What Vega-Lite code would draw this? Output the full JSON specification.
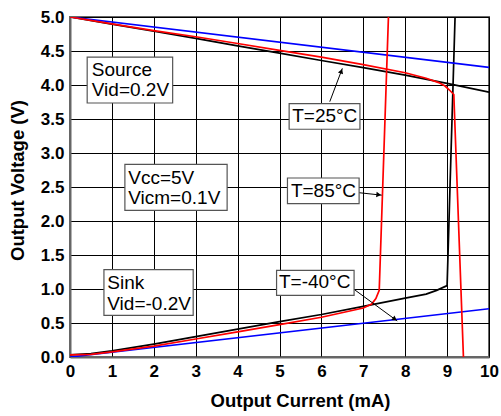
{
  "$schema": "https://vega.github.io/schema/vega-lite/v6.json",
  "width": 419,
  "height": 340,
  "autosize": {"type": "none"},
  "padding": {"left": 70, "top": 17, "right": 12, "bottom": 59},
  "background": "white",
  "config": {
    "view": {"stroke": "#666666", "strokeWidth": 2},
    "font": "Liberation Sans"
  },
  "datasets": {
    "curves": [
      {"T": "25", "seg": "k-src", "i": 0, "x": 0, "y": 5.0},
      {"T": "25", "seg": "k-src", "i": 1, "x": 1, "y": 4.895},
      {"T": "25", "seg": "k-src", "i": 2, "x": 2, "y": 4.79},
      {"T": "25", "seg": "k-src", "i": 3, "x": 3, "y": 4.685},
      {"T": "25", "seg": "k-src", "i": 4, "x": 4, "y": 4.575},
      {"T": "25", "seg": "k-src", "i": 5, "x": 5, "y": 4.47},
      {"T": "25", "seg": "k-src", "i": 6, "x": 6, "y": 4.36},
      {"T": "25", "seg": "k-src", "i": 7, "x": 7, "y": 4.255},
      {"T": "25", "seg": "k-src", "i": 8, "x": 8, "y": 4.145},
      {"T": "25", "seg": "k-src", "i": 9, "x": 9, "y": 4.025},
      {"T": "25", "seg": "k-src", "i": 10, "x": 10, "y": 3.895},
      {"T": "25", "seg": "k-snk", "i": 0, "x": 0, "y": 0.03},
      {"T": "25", "seg": "k-snk", "i": 1, "x": 0.5, "y": 0.05},
      {"T": "25", "seg": "k-snk", "i": 2, "x": 1, "y": 0.09},
      {"T": "25", "seg": "k-snk", "i": 3, "x": 2, "y": 0.19},
      {"T": "25", "seg": "k-snk", "i": 4, "x": 3, "y": 0.3},
      {"T": "25", "seg": "k-snk", "i": 5, "x": 4, "y": 0.41},
      {"T": "25", "seg": "k-snk", "i": 6, "x": 5, "y": 0.52},
      {"T": "25", "seg": "k-snk", "i": 7, "x": 6, "y": 0.625},
      {"T": "25", "seg": "k-snk", "i": 8, "x": 7, "y": 0.745},
      {"T": "25", "seg": "k-snk", "i": 9, "x": 8, "y": 0.865},
      {"T": "25", "seg": "k-snk", "i": 10, "x": 8.5, "y": 0.925},
      {"T": "25", "seg": "k-snk", "i": 11, "x": 8.75, "y": 0.98},
      {"T": "25", "seg": "k-snk", "i": 12, "x": 9.0, "y": 1.05},
      {"T": "25", "seg": "k-snk", "i": 13, "x": 9.06, "y": 2.31},
      {"T": "25", "seg": "k-snk", "i": 14, "x": 9.19, "y": 5.0},
      {"T": "-40", "seg": "b-src", "i": 0, "x": 0, "y": 5.0},
      {"T": "-40", "seg": "b-src", "i": 1, "x": 10, "y": 4.26},
      {"T": "-40", "seg": "b-snk", "i": 0, "x": 0, "y": 0.0},
      {"T": "-40", "seg": "b-snk", "i": 1, "x": 10, "y": 0.71},
      {"T": "85", "seg": "r-src", "i": 0, "x": 0, "y": 5.0},
      {"T": "85", "seg": "r-src", "i": 1, "x": 1, "y": 4.9},
      {"T": "85", "seg": "r-src", "i": 2, "x": 2, "y": 4.8},
      {"T": "85", "seg": "r-src", "i": 3, "x": 3, "y": 4.71},
      {"T": "85", "seg": "r-src", "i": 4, "x": 4, "y": 4.61},
      {"T": "85", "seg": "r-src", "i": 5, "x": 5, "y": 4.51},
      {"T": "85", "seg": "r-src", "i": 6, "x": 6, "y": 4.41},
      {"T": "85", "seg": "r-src", "i": 7, "x": 7, "y": 4.3},
      {"T": "85", "seg": "r-src", "i": 8, "x": 8, "y": 4.18},
      {"T": "85", "seg": "r-src", "i": 9, "x": 8.5, "y": 4.1},
      {"T": "85", "seg": "r-src", "i": 10, "x": 8.8, "y": 4.035},
      {"T": "85", "seg": "r-src", "i": 11, "x": 8.95, "y": 3.985},
      {"T": "85", "seg": "r-src", "i": 12, "x": 9.05, "y": 3.93},
      {"T": "85", "seg": "r-src", "i": 13, "x": 9.16, "y": 3.86},
      {"T": "85", "seg": "r-src", "i": 14, "x": 9.39, "y": 0.0},
      {"T": "85", "seg": "r-snk", "i": 0, "x": 0, "y": 0.03},
      {"T": "85", "seg": "r-snk", "i": 1, "x": 0.5, "y": 0.04},
      {"T": "85", "seg": "r-snk", "i": 2, "x": 1, "y": 0.075},
      {"T": "85", "seg": "r-snk", "i": 3, "x": 2, "y": 0.16},
      {"T": "85", "seg": "r-snk", "i": 4, "x": 3, "y": 0.265},
      {"T": "85", "seg": "r-snk", "i": 5, "x": 4, "y": 0.37},
      {"T": "85", "seg": "r-snk", "i": 6, "x": 5, "y": 0.475},
      {"T": "85", "seg": "r-snk", "i": 7, "x": 6, "y": 0.585},
      {"T": "85", "seg": "r-snk", "i": 8, "x": 7, "y": 0.72},
      {"T": "85", "seg": "r-snk", "i": 9, "x": 7.2, "y": 0.78},
      {"T": "85", "seg": "r-snk", "i": 10, "x": 7.3, "y": 0.86},
      {"T": "85", "seg": "r-snk", "i": 11, "x": 7.38, "y": 0.98},
      {"T": "85", "seg": "r-snk", "i": 12, "x": 7.6, "y": 5.0}
    ],
    "boxes": [
      {"x": 0.41, "x2": 2.45, "y": 4.41, "y2": 3.735},
      {"x": 1.31, "x2": 3.75, "y": 2.834, "y2": 2.157},
      {"x": 0.81, "x2": 2.94, "y": 1.285, "y2": 0.613},
      {"x": 5.23, "x2": 6.92, "y": 3.726, "y2": 3.349},
      {"x": 5.19, "x2": 6.9, "y": 2.632, "y2": 2.256},
      {"x": 4.93, "x2": 6.78, "y": 1.275, "y2": 0.907}
    ],
    "notes": [
      {"t": "Source", "x": 0.52, "y": 4.22},
      {"t": "Vid=0.2V", "x": 0.52, "y": 3.93},
      {"t": "Vcc=5V", "x": 1.39, "y": 2.637},
      {"t": "Vicm=0.1V", "x": 1.39, "y": 2.334},
      {"t": "Sink", "x": 0.89, "y": 1.093},
      {"t": "Vid=-0.2V", "x": 0.89, "y": 0.784}
    ],
    "tlabels": [
      {"t": "T=25°C", "x": 6.08, "y": 3.54},
      {"t": "T=85°C", "x": 6.05, "y": 2.435},
      {"t": "T=-40°C", "x": 5.84, "y": 1.11}
    ],
    "arrows": [
      {"a": "25", "x": 6.2, "y": 3.755, "x2": 6.5, "y2": 4.245},
      {"a": "85", "x": 6.9, "y": 2.416, "x2": 7.44, "y2": 2.38},
      {"a": "-40", "x": 6.79, "y": 0.99, "x2": 7.81, "y2": 0.53}
    ],
    "heads": [
      {"a": "25", "x": 6.475, "y": 4.204},
      {"a": "85", "x": 7.368, "y": 2.385},
      {"a": "-40", "x": 7.752, "y": 0.556}
    ]
  },
  "encoding": {
    "x": {
      "field": "x",
      "type": "quantitative",
      "scale": {"domain": [0, 10], "nice": false, "zero": false},
      "axis": {
        "values": [0, 1, 2, 3, 4, 5, 6, 7, 8, 9, 10],
        "grid": true,
        "gridColor": "#000000",
        "gridWidth": 1,
        "gridOpacity": 1,
        "ticks": false,
        "domainColor": "#666666",
        "domainWidth": 2,
        "labelFont": "Liberation Sans",
        "labelFontSize": 17,
        "labelFontWeight": "bold",
        "labelColor": "#000000",
        "labelPadding": 6,
        "labelFlush": false,
        "labelOverlap": false,
        "title": "Output Current (mA)",
        "titleFont": "Liberation Sans",
        "titleFontSize": 18.5,
        "titleFontWeight": "bold",
        "titleColor": "#000000",
        "titleX": 230,
        "titleY": 43,
        "titleAlign": "center",
        "titleBaseline": "middle"
      }
    },
    "y": {
      "field": "y",
      "type": "quantitative",
      "scale": {"domain": [0, 5], "nice": false, "zero": false},
      "axis": {
        "values": [0, 0.5, 1, 1.5, 2, 2.5, 3, 3.5, 4, 4.5, 5],
        "format": ".1f",
        "grid": true,
        "gridColor": "#000000",
        "gridWidth": 1,
        "gridOpacity": 1,
        "ticks": false,
        "domainColor": "#666666",
        "domainWidth": 2,
        "labelFont": "Liberation Sans",
        "labelFontSize": 17,
        "labelFontWeight": "bold",
        "labelColor": "#000000",
        "labelPadding": 6,
        "labelFlush": false,
        "labelOverlap": false,
        "title": "Output Voltage (V)",
        "titleFont": "Liberation Sans",
        "titleFontSize": 18.5,
        "titleFontWeight": "bold",
        "titleColor": "#000000",
        "titleAngle": -90,
        "titleX": -52.5,
        "titleY": 163,
        "titleAlign": "center",
        "titleBaseline": "middle"
      }
    }
  },
  "layer": [
    {
      "data": {"name": "curves"},
      "mark": {"type": "line", "strokeWidth": 1.7, "clip": true},
      "encoding": {
        "color": {
          "field": "T",
          "type": "nominal",
          "scale": {"domain": ["25", "-40", "85"], "range": ["#000000", "#0000ff", "#ff0000"]},
          "legend": null
        },
        "detail": {"field": "seg", "type": "nominal"},
        "order": {"field": "i", "type": "quantitative"}
      }
    },
    {
      "data": {"name": "arrows"},
      "mark": {"type": "rule", "color": "#000000", "strokeWidth": 1},
      "encoding": {
        "x2": {"field": "x2"},
        "y2": {"field": "y2"}
      }
    },
    {
      "data": {"name": "heads"},
      "transform": [{"filter": "datum.a == '25'"}],
      "mark": {"type": "point", "shape": "triangle-up", "filled": true, "color": "#000000", "opacity": 1, "size": 30, "angle": 20}
    },
    {
      "data": {"name": "heads"},
      "transform": [{"filter": "datum.a == '85'"}],
      "mark": {"type": "point", "shape": "triangle-up", "filled": true, "color": "#000000", "opacity": 1, "size": 30, "angle": 96}
    },
    {
      "data": {"name": "heads"},
      "transform": [{"filter": "datum.a == '-40'"}],
      "mark": {"type": "point", "shape": "triangle-up", "filled": true, "color": "#000000", "opacity": 1, "size": 30, "angle": 126}
    },
    {
      "data": {"name": "boxes"},
      "mark": {"type": "rect", "fill": "#ffffff", "stroke": "#555555", "strokeWidth": 1.2},
      "encoding": {
        "x2": {"field": "x2"},
        "y2": {"field": "y2"}
      }
    },
    {
      "data": {"name": "notes"},
      "mark": {"type": "text", "align": "left", "baseline": "middle", "fontSize": 19, "font": "Liberation Sans", "color": "#000000"},
      "encoding": {"text": {"field": "t"}}
    },
    {
      "data": {"name": "tlabels"},
      "mark": {"type": "text", "align": "center", "baseline": "middle", "fontSize": 19, "font": "Liberation Sans", "color": "#000000"},
      "encoding": {"text": {"field": "t"}}
    }
  ]
}
